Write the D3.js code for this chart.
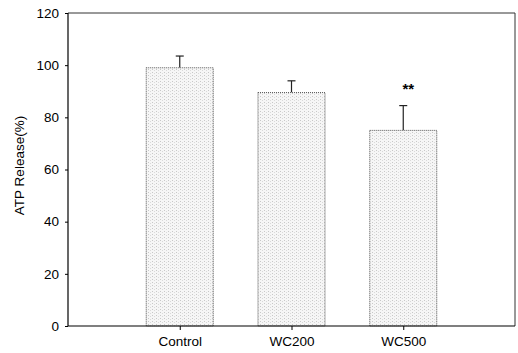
<!DOCTYPE html>
<html>
<head>
<meta charset="utf-8">
<script src="https://cdn.jsdelivr.net/npm/d3@7"></script>
<style>
  body { margin: 0; background: #fff; }
  text { font-family: "Liberation Sans", Arial, sans-serif; }
</style>
</head>
<body>
<script>
// chart values
const groups = ["Control", "WC200", "WC500"];
const means = [99, 89.5, 75];
const errors = [4.5, 4.5, 9.5];
const marks = ["", "", "**"];
const yTicks = [0, 20, 40, 60, 80, 100, 120];

const width = 518, height = 353;
const plotL = 68, plotR = 515, plotT = 13, plotB = 326;

const svg = d3.select("body").append("svg").attr("width", width).attr("height", height);

// stipple pattern for bar fill
const defs = svg.append("defs");
const pat = defs.append("pattern").attr("id", "dots").attr("width", 4).attr("height", 3)
    .attr("patternUnits", "userSpaceOnUse");
pat.append("rect").attr("width", 4).attr("height", 3).attr("fill", "#f6f6f6");
pat.append("rect").attr("x", 0).attr("y", 0).attr("width", 1).attr("height", 1).attr("fill", "#c8c8c8");
pat.append("rect").attr("x", 2).attr("y", 1).attr("width", 1).attr("height", 1).attr("fill", "#dadada");

const x = d3.scalePoint().domain(groups).range([plotL, plotR]).padding(1);
const y = d3.scaleLinear().domain([0, 120]).range([plotB, plotT]);
const barW = x.step() * 0.6;

// frame (top & right)
svg.append("line").attr("x1", plotL).attr("x2", plotR).attr("y1", plotT).attr("y2", plotT)
    .attr("stroke", "#333").attr("stroke-width", 1);
svg.append("line").attr("x1", plotR).attr("x2", plotR).attr("y1", plotT).attr("y2", plotB)
    .attr("stroke", "#333").attr("stroke-width", 1);

// error bars
groups.forEach((g, i) => {
    const cx = x(g);
    svg.append("line").attr("x1", cx).attr("x2", cx)
        .attr("y1", y(means[i])).attr("y2", y(means[i] + errors[i]))
        .attr("stroke", "#222").attr("stroke-width", 1.2);
    svg.append("line").attr("x1", cx - 4).attr("x2", cx + 4)
        .attr("y1", y(means[i] + errors[i])).attr("y2", y(means[i] + errors[i]))
        .attr("stroke", "#222").attr("stroke-width", 1.2);
});

// bars
svg.selectAll(".bar").data(groups).enter().append("rect")
    .attr("class", "bar")
    .attr("x", d => x(d) - barW / 2)
    .attr("width", barW)
    .attr("y", (d, i) => y(means[i]))
    .attr("height", (d, i) => plotB - y(means[i]))
    .attr("fill", "url(#dots)")
    .attr("stroke", "#555").attr("stroke-width", 1).attr("stroke-dasharray", "1,1");

// significance marks
svg.selectAll(".sig").data(groups).enter().append("text")
    .attr("x", d => x(d) + 5)
    .attr("y", (d, i) => y(means[i] + errors[i]) - 12)
    .attr("text-anchor", "middle")
    .attr("font-size", 15).attr("font-weight", "bold")
    .text((d, i) => marks[i]);

// axes
const yAxis = svg.append("g").attr("transform", `translate(${plotL},0)`)
    .call(d3.axisLeft(y).tickValues(yTicks).tickSize(3).tickPadding(6));
const xAxis = svg.append("g").attr("transform", `translate(0,${plotB})`)
    .call(d3.axisBottom(x).tickSize(4).tickPadding(6).tickSizeOuter(0));
[yAxis, xAxis].forEach(a => {
    a.select(".domain").attr("stroke", "#000").attr("stroke-width", 1.2);
    a.selectAll("text").attr("font-size", 13.5).attr("fill", "#000")
        .attr("font-family", "Liberation Sans, Arial, sans-serif");
});
yAxis.select(".domain").attr("d", `M0,${plotT}V${plotB}`);
xAxis.select(".domain").attr("d", `M${plotL},0H${plotR}`);

// y label
svg.append("text")
    .attr("transform", `translate(24,${(plotT + plotB) / 2 - 4}) rotate(-90)`)
    .attr("text-anchor", "middle")
    .attr("font-size", 13.5)
    .text("ATP Release(%)");
</script>
</body>
</html>
